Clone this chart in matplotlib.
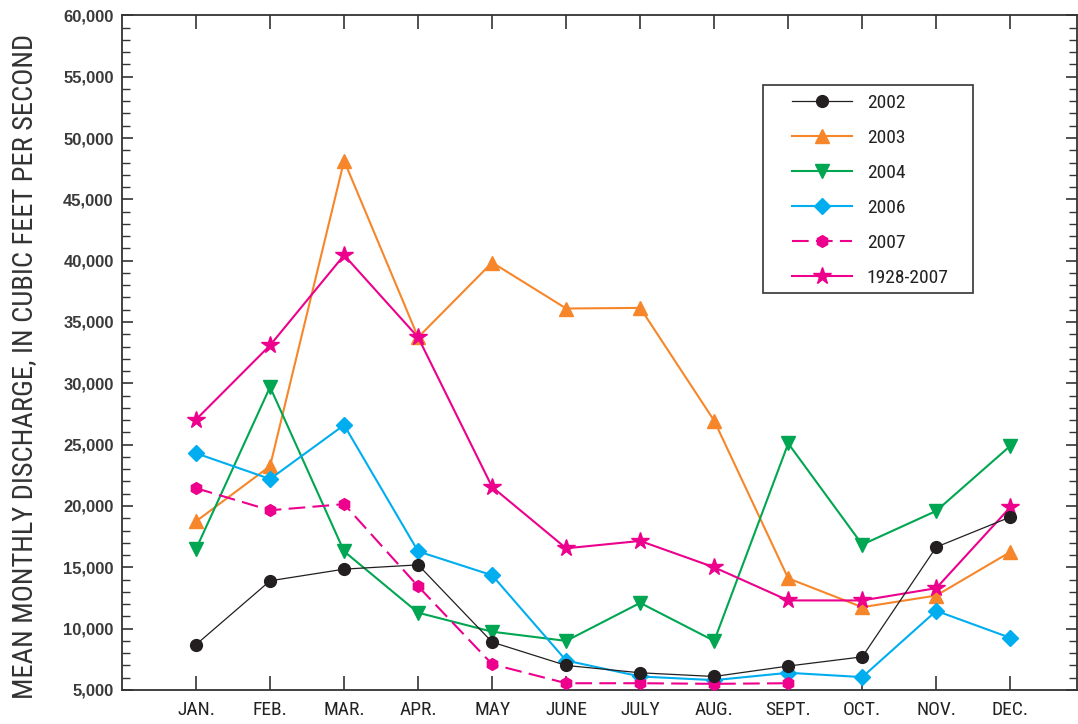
import matplotlib
matplotlib.use("Agg")
import matplotlib.pyplot as plt
from matplotlib.patches import Rectangle
from matplotlib.ticker import MultipleLocator, FuncFormatter

plt.rcParams['font.family'] = ['Roboto Condensed', 'Liberation Sans', 'DejaVu Sans']

months = ["JAN.", "FEB.", "MAR.", "APR.", "MAY", "JUNE", "JULY", "AUG.", "SEPT.", "OCT.", "NOV.", "DEC."]

q2002 = [8700, 13900, 14850, 15200, 8900, 7000, 6400, 6100, 6950, 7700, 16650, 19100]
q2003 = [18750, 23250, 48150, 33750, 39850, 36100, 36150, 26950, 14100, 11750, 12700, 16250]
q2004 = [16500, 29700, 16300, 11300, 9750, 9000, 12100, 9000, 25100, 16850, 19600, 24900]
q2006 = [24300, 22200, 26600, 16300, 14350, 7400, 6100, 5800, 6400, 6050, 11450, 9250]
q2007 = [21450, 19650, 20150, 13450, 7100, 5550, 5550, 5500, 5550]
q_mean = [27050, 33100, 40450, 33750, 21550, 16550, 17150, 15000, 12300, 12300, 13300, 19900]

x = list(range(1, 13))

fig = plt.figure(figsize=(10.78, 7.24), dpi=100)
ax = fig.add_axes([0.1132, 0.047, 0.8858, 0.9318])

c_black = "#231F20"
c_orange = "#F7862A"
c_green = "#00A651"
c_cyan = "#00AEEF"
c_pink = "#EC008C"

ax.plot(x, q2002, color=c_black, lw=0.9, marker="o", ms=8.5, mec=c_black, mfc=c_black, label="2002", zorder=5)
ax.plot(x, q2003, color=c_orange, lw=1.5, marker="^", ms=9.5, mec=c_orange, mfc=c_orange, label="2003", zorder=3)
ax.plot(x, q2004, color=c_green, lw=1.5, marker="v", ms=9.5, mec=c_green, mfc=c_green, label="2004", zorder=3)
ax.plot(x, q2006, color=c_cyan, lw=1.5, marker="D", ms=8, mec=c_cyan, mfc=c_cyan, label="2006", zorder=4)
ax.plot(x[:len(q2007)], q2007, color=c_pink, lw=1.5, ls=(0, (8, 3.5)), marker="h", ms=8.5,
        mec=c_pink, mfc=c_pink, label="2007", zorder=4)
ax.plot(x, q_mean, color=c_pink, lw=1.5, marker="*", ms=13, mec=c_pink, mfc=c_pink,
        label="1928-2007", zorder=4)

ax.set_xlim(0, 12.9)
ax.set_ylim(5000, 60000)
ax.set_xticks(x)
ax.set_xticklabels(months)
ax.yaxis.set_major_locator(MultipleLocator(5000))
ax.yaxis.set_minor_locator(MultipleLocator(1000))
ax.yaxis.set_major_formatter(FuncFormatter(lambda v, p: f"{int(v):,}"))

ax.tick_params(axis="x", which="major", direction="in", length=10, width=1.2,
               top=True, bottom=True, labelsize=14, pad=8, color="#333333")
ax.tick_params(axis="y", which="major", direction="in", length=8, width=1.2,
               left=True, right=True, pad=6, color="#333333")
ax.tick_params(axis="y", which="minor", direction="in", length=6, width=1.0,
               left=True, right=True, color="#333333")
for lab in ax.get_yticklabels():
    lab.set_family(["Liberation Sans", "DejaVu Sans"])
    lab.set_fontweight("bold")
    lab.set_fontsize(12)
    lab.set_color("#3a3a3a")
for lab in ax.get_xticklabels():
    lab.set_color("#222222")

for sp in ax.spines.values():
    sp.set_linewidth(1.3)
    sp.set_color("#333333")

ax.set_ylabel("MEAN MONTHLY DISCHARGE, IN CUBIC FEET PER SECOND", fontsize=20.5, color="#333333")
ax.yaxis.set_label_coords(-0.088, 0.479)

# legend entries without their own frame; the box is drawn separately
leg = ax.legend(loc="upper left", bbox_to_anchor=(0.7016, 0.883), frameon=False,
                fontsize=14, handlelength=3.1, handletextpad=0.75,
                labelspacing=0.87, borderpad=0, borderaxespad=0)
for t in leg.get_texts():
    t.set_color("#222222")
ax.add_patch(Rectangle((0.671, 0.589), 0.22, 0.308, transform=ax.transAxes,
                       fill=False, edgecolor="#333333", lw=1.2, zorder=6))

fig.savefig("out.png", dpi=100)
